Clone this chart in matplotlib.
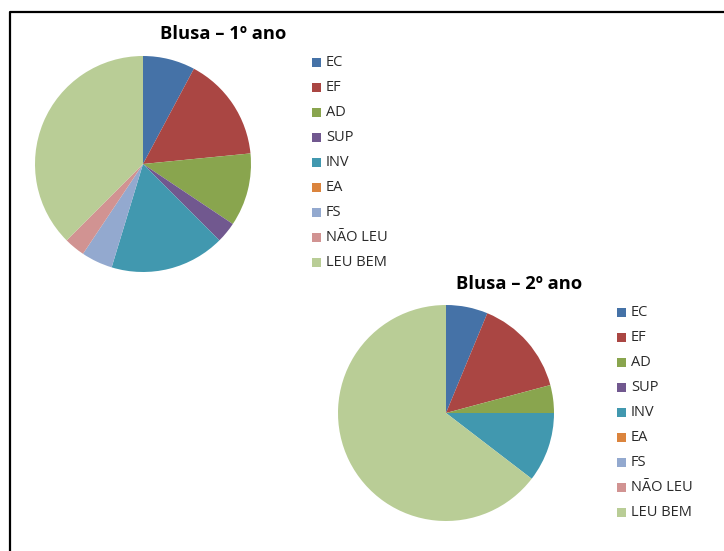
import matplotlib
matplotlib.use("Agg")
import matplotlib.pyplot as plt
from matplotlib.patches import Rectangle
from matplotlib.lines import Line2D

W, H = 724, 551

categories = ["EC", "EF", "AD", "SUP", "INV", "EA", "FS", "NÃO LEU", "LEU BEM"]
ano1 = [5, 10, 7, 2, 11, 0, 3, 2, 24]
ano2 = [3, 7, 2, 0, 5, 0, 0, 0, 31]
colors = ["#4572A7", "#AA4643", "#89A54E", "#71588F", "#4198AF",
          "#DB843D", "#93A9CF", "#D19392", "#B9CD96"]

plt.rcParams["font.family"] = ["Open Sans", "DejaVu Sans"]

fig = plt.figure(figsize=(W / 100, H / 100), dpi=100)


def px_axes(cx, cy, r):
	# axes in pixel coords (origin top-left)
	return fig.add_axes([(cx - r) / W, 1 - (cy + r) / H, 2 * r / W, 2 * r / H])


def draw_pie(cx, cy, r, values):
	ax = px_axes(cx, cy, r)
	ax.pie(values, colors=colors, startangle=90, counterclock=False,
		radius=1, wedgeprops=dict(linewidth=0))
	ax.set_xlim(-1, 1)
	ax.set_ylim(-1, 1)
	ax.set_aspect("equal")
	ax.axis("off")


def draw_legend(x, y0, step):
	for i, (lab, col) in enumerate(zip(categories, colors)):
		y = y0 + i * step
		fig.patches.append(Rectangle(((x - 4.5) / W, 1 - (y + 4.5) / H), 9 / W, 9 / H,
			transform=fig.transFigure, facecolor=col, edgecolor="none"))
		fig.text((x + 10) / W, 1 - y / H, lab, fontsize=10.5, va="center", ha="left",
			color="#2a2a2a")


draw_pie(143, 164, 108, ano1)
draw_pie(446, 413, 108, ano2)

fig.text(223 / W, 1 - 34 / H, "Blusa – 1º ano", fontsize=13.2, fontweight="bold",
	ha="center", va="center")
fig.text(519 / W, 1 - 284 / H, "Blusa – 2º ano", fontsize=13.2, fontweight="bold",
	ha="center", va="center")

draw_legend(316, 62, 25.1)
draw_legend(621, 312, 25.1)

# outer frame (top and left edges visible)
fig.lines.append(Line2D([9.5 / W, 9.5 / W, 1.0], [0.0, 1 - 11.5 / H, 1 - 11.5 / H],
	transform=fig.transFigure, color="black", linewidth=1.6))

fig.savefig("out.png", dpi=100)
